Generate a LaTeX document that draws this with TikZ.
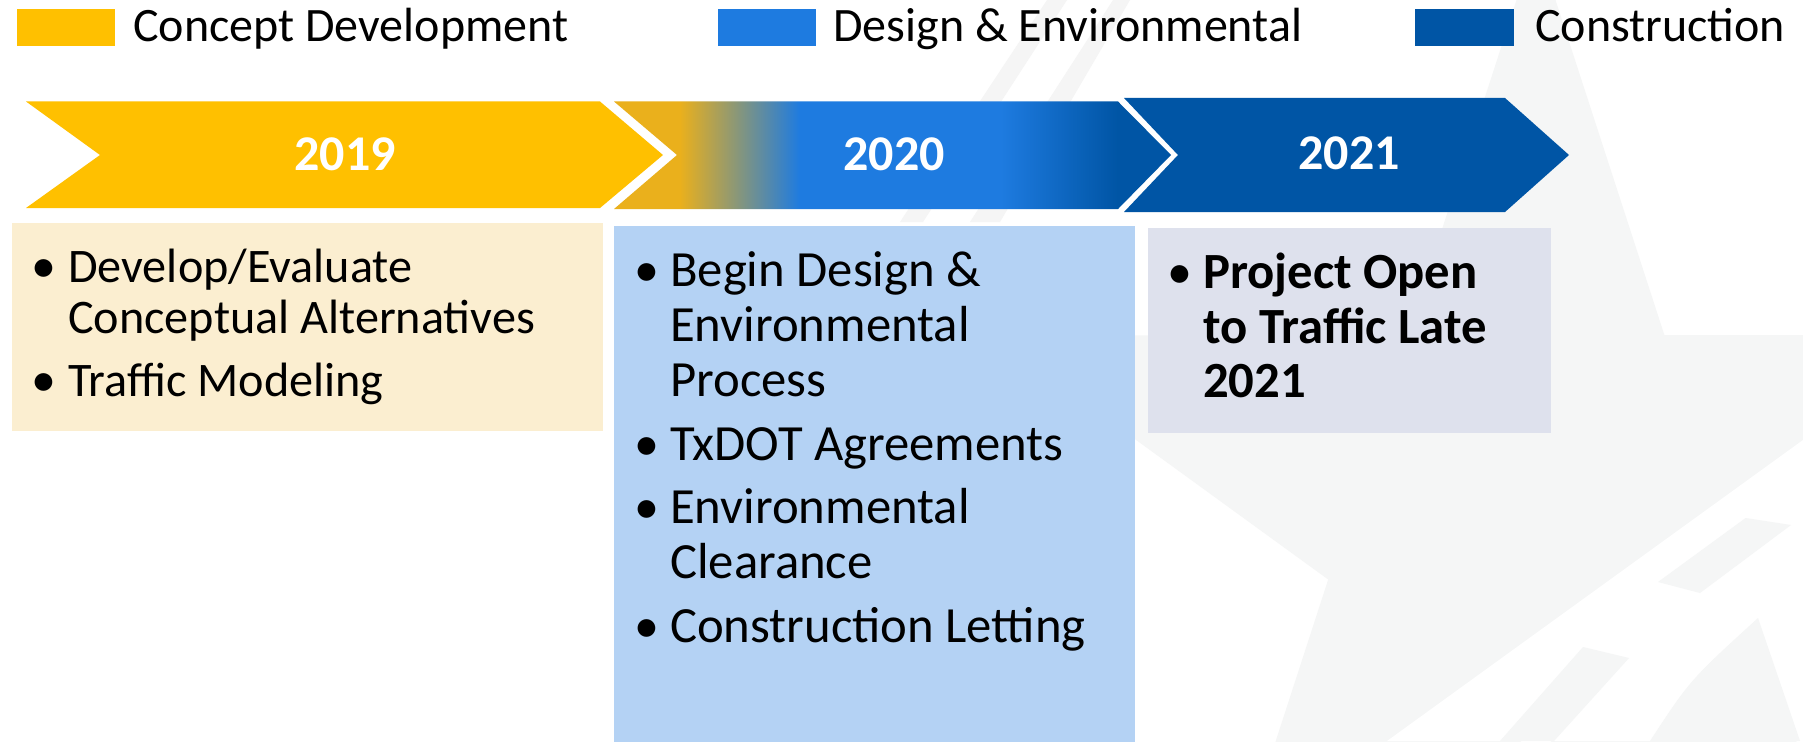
\documentclass[tikz,border=0pt]{standalone}
\usepackage{fontspec}
\setmainfont{Carlito}
\definecolor{cdgold}{HTML}{FFC000}
\definecolor{goldT}{HTML}{EAB01C}
\definecolor{blueA}{HTML}{1E7BE0}
\definecolor{blueD}{HTML}{0055A5}
\definecolor{creambox}{HTML}{FBEED0}
\definecolor{bluebox}{HTML}{B4D2F4}
\definecolor{greybox}{HTML}{DEE1ED}
\definecolor{starg}{HTML}{F5F6F6}
\definecolor{stripeg}{HTML}{F5F5F5}
\pgfdeclarehorizontalshading{gradtwo}{100bp}{color(0bp)=(goldT); color(30.9bp)=(goldT); color(41.7bp)=(blueA); color(59.7bp)=(blueA); color(70.2bp)=(blueD); color(100bp)=(blueD)}
\tikzset{
  legtext/.style={anchor=base west, inner sep=0pt, font=\fontsize{48}{58}\selectfont},
  yeartext/.style={anchor=base, inner sep=0pt, text=white, font=\fontsize{50}{60}\selectfont\bfseries},
  itemone/.style={anchor=base west, inner sep=0pt, font=\fontsize{48.2}{52}\selectfont},
  itemtext/.style={anchor=base west, inner sep=0pt, font=\fontsize{50.7}{55}\selectfont},
  itembold/.style={itemtext, font=\fontsize{50.7}{55}\selectfont\bfseries},
  bul/.style={anchor=base, inner sep=0pt, font=\fontsize{50}{54}\selectfont},
}
\begin{document}
\begin{tikzpicture}[x=1pt,y=-1pt]
\useasboundingbox (0,0) rectangle (1803,741);
\fill[white] (0,0) rectangle (1803,741);
% faint star watermark
\begin{scope}
\clip (0,0) rectangle (1803,741);
\fill[stripeg] (1047,0) -- (1067,0) -- (923,222) -- (900,222) -- cycle;
\fill[stripeg] (1113,0) -- (1130,0) -- (1000,222) -- (970,222) -- cycle;
\fill[starg] (1536,-60) -- (1407.6,335.2) -- (992,335.3) -- (1328.2,579.5) -- (1199.8,974.8) -- (1536,730.5) -- (1872.2,974.8) -- (1743.8,579.5) -- (2080,335.3) -- (1664.4,335.2) -- cycle;
\fill[white] (1803,440) -- (1803,741) -- (1387,741) -- cycle;
\fill[starg] (1745.6,518) -- (1791,525) -- (1700,593) -- (1658,582) -- cycle;
\fill[starg] (1583,647) -- (1629,658) -- (1554,741) -- (1500,741) -- cycle;
\fill[starg] (1758,618) -- (1800,741) -- (1650,741) .. controls (1690,680) .. (1758,618) -- cycle;
\end{scope}
% legend
\fill[cdgold] (17,9) rectangle (115,46);
\node[legtext] (lg1) at (133,42) {Concept Development};
\fill[blueA] (718,9) rectangle (816,46);
\node[legtext] (lg2) at (833,42) {Design \& Environmental};
\fill[blueD] (1415,9) rectangle (1514,46);
\node[legtext] (lg3) at (1535,42) {Construction};
% chevrons
\fill[cdgold] (26,101.5) -- (600,101.5) -- (663,155) -- (600,208) -- (26,208) -- (100,155) -- cycle;
\shade[shading=gradtwo] (614,101.5) -- (1118,101.5) -- (1171,155) -- (1118,209) -- (614,209) -- (677,155) -- cycle;
\fill[blueD] (1124,98) -- (1505,98) -- (1569,155) -- (1505,212) -- (1124,212) -- (1178,155) -- cycle;
\node[yeartext] (y19) at (345,170) {2019};
\node[yeartext] (y20) at (894,170) {2020};
\node[yeartext] (y21) at (1349,169) {2021};
% boxes
\fill[creambox] (12,223) rectangle (603,431);
\fill[bluebox] (613.6,226) rectangle (1134.7,745);
\fill[greybox] (1148,227.6) rectangle (1550.6,432.8);
% box 1 text
\node[bul] (b1a) at (44.4,282) {•};
\node[itemone] (t1a) at (68,282) {Develop/Evaluate};
\node[itemone] (t1b) at (68,333) {Conceptual Alternatives};
\node[bul] (b1b) at (44.4,396) {•};
\node[itemone] (t1c) at (68,396) {Traffic Modeling};
% box 2 text
\node[bul] (b2a) at (646.5,286) {•};
\node[itemtext] (t2a) at (670,286) {Begin Design \&};
\node[itemtext] (t2b) at (670,341) {Environmental};
\node[itemtext] (t2c) at (670,396) {Process};
\node[bul] (b2b) at (646.5,460) {•};
\node[itemtext] (t2d) at (670,460) {TxDOT Agreements};
\node[bul] (b2c) at (646.5,523) {•};
\node[itemtext] (t2e) at (670,523) {Environmental};
\node[itemtext] (t2f) at (670,578) {Clearance};
\node[bul] (b2d) at (646.5,642) {•};
\node[itemtext] (t2g) at (670,642) {Construction Letting};
% box 3 text
\node[bul] (b3a) at (1179.5,288) {•};
\node[itembold] (t3a) at (1203,288) {Project Open};
\node[itembold] (t3b) at (1203,343) {to Traffic Late};
\node[itembold] (t3c) at (1203,397) {2021};
\end{tikzpicture}
\end{document}
